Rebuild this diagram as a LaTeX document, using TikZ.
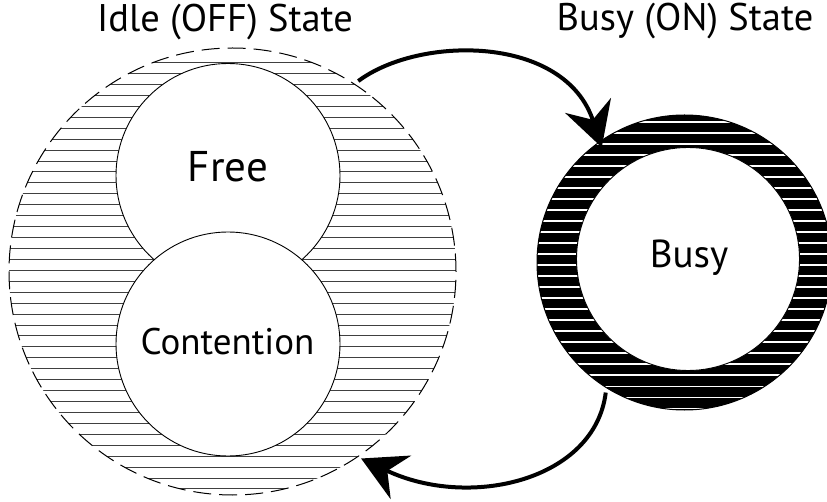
\documentclass[tikz,border=0pt]{standalone}
\usepackage{fontspec}
\setmainfont{PT Sans}
\usetikzlibrary{arrows.meta}
\begin{document}
\begin{tikzpicture}[x=1pt,y=-1pt,
  ring/.style={circle,inner sep=0pt,outer sep=0pt},
  lbl/.style={inner sep=0pt,anchor=base},
  flow/.style={line width=4pt,-{Stealth[length=44pt,width=48pt,inset=15pt]}},
  hatchline/.style={black!75,line width=1pt},
  whiteline/.style={white,line width=1.6pt},
]
\useasboundingbox (0,0) rectangle (827,502);
% Idle state hatching
\begin{scope}
  \clip (232.5,271.5) circle[radius=223.5];
  \foreach \i in {0,...,40} \draw[hatchline] (0,62.7+10.93*\i) -- (480,62.7+10.93*\i);
\end{scope}
\node[ring,draw,line width=1pt,dash pattern=on 18pt off 8pt,minimum size=447pt] (idle) at (232.5,271.5) {};
\node[ring,draw,fill=white,line width=0.9pt,minimum size=224pt] (free) at (228,175.5) {};
\node[ring,draw,fill=white,line width=0.9pt,minimum size=224pt] (cont) at (228,344) {};
% Busy state
\fill[black] (684.5,262.5) circle[radius=147.5];
\begin{scope}
  \clip (684.5,262.5) circle[radius=147.5];
  \foreach \i in {-2,...,28} \draw[whiteline] (530,133.3+11*\i) -- (840,133.3+11*\i);
\end{scope}
\node[ring,draw,line width=1pt,minimum size=295pt] (busy) at (684.5,262.5) {};
\node[ring,draw,fill=white,line width=0.9pt,minimum size=223pt] (busyin) at (688,259) {};
% labels
\node[lbl,font=\fontsize{43}{43}\selectfont] (freetxt) at (228,181.7) {Free};
\node[lbl,font=\fontsize{37}{37}\selectfont] (conttxt) at (227.5,355) {Contention};
\node[lbl,font=\fontsize{39}{39}\selectfont] (busytxt) at (689,268) {Busy};
\node[lbl,font=\fontsize{38.5}{38.5}\selectfont] (idletitle) at (225,32) {Idle (OFF) State};
\node[lbl,font=\fontsize{38.5}{38.5}\selectfont] (busytitle) at (685,31) {Busy (ON) State};
% transitions
\draw[flow,shorten <=5pt,shorten >=-6pt] (idle.57) .. controls (420,35) and (565,35) .. (busy.125);
\draw[flow,shorten <=5pt,shorten >=4pt] (busy.238) .. controls (595,480) and (470,510) .. (idle.-56.6);
\end{tikzpicture}
\end{document}
